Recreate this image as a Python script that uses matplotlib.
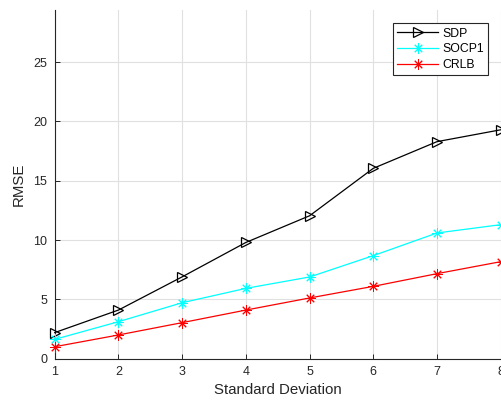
import matplotlib
matplotlib.use('Agg')
import matplotlib.pyplot as plt

plt.rcParams['font.family'] = ['Liberation Sans', 'DejaVu Sans']

# RMSE against noise standard deviation for each estimator
std_dev = [1, 2, 3, 4, 5, 6, 7, 8]
rmse_sdp = [2.2, 4.1, 6.9, 9.8, 12.05, 16.05, 18.3, 19.3]
rmse_socp1 = [1.63, 3.12, 4.72, 5.93, 6.89, 8.69, 10.6, 11.3]
rmse_crlb = [1.01, 2.0, 3.04, 4.1, 5.12, 6.1, 7.17, 8.18]

# eight-spoke asterisk marker
star = (8, 2, 0)

fig = plt.figure(figsize=(5.02, 4.01), dpi=100)
ax = fig.add_axes([54.7 / 502, 42.3 / 401, (500.7 - 54.7) / 502, (358.7 - 10) / 401])

ax.plot(std_dev, rmse_sdp, color='black', lw=0.9, marker='>', ms=6.5,
        mfc='none', mec='black', mew=0.9, label='SDP', clip_on=False, zorder=3)
ax.plot(std_dev, rmse_socp1, color='cyan', lw=0.9, marker=star, ms=7.5,
        mec='cyan', mew=0.7, label='SOCP1', clip_on=False, zorder=3)
ax.plot(std_dev, rmse_crlb, color='red', lw=0.9, marker=star, ms=7.5,
        mec='red', mew=0.7, label='CRLB', clip_on=False, zorder=3)

ax.set_xlim(1, 8)
ax.set_ylim(0, 29.4)
ax.set_xticks(range(1, 9))
ax.set_yticks([0, 5, 10, 15, 20, 25])

ax.grid(True, color='#e0e0e0', lw=0.8)
ax.set_axisbelow(True)
for side in ['top', 'right']:
    ax.spines[side].set_visible(False)
for side in ['left', 'bottom']:
    ax.spines[side].set_color('#262626')
    ax.spines[side].set_linewidth(0.8)
ax.tick_params(direction='in', length=3.5, width=0.7, colors='#262626',
               labelsize=9)
ax.tick_params(axis='x', pad=5.5)
ax.tick_params(axis='y', pad=5.5)

ax.set_xlabel('Standard Deviation', fontsize=10.8, color='#262626', labelpad=3)
ax.set_ylabel('RMSE', fontsize=10.8, color='#262626', labelpad=5)

leg = ax.legend(loc='upper right', bbox_to_anchor=(488 / 502, (401 - 23.3) / 401),
                bbox_transform=fig.transFigure, fontsize=8.8, fancybox=False,
                framealpha=1, edgecolor='#262626', handlelength=3.3,
                borderpad=0.35, labelspacing=0.3, handletextpad=0.35,
                borderaxespad=0)
leg.get_frame().set_linewidth(0.8)

fig.savefig('out.png', dpi=100)
